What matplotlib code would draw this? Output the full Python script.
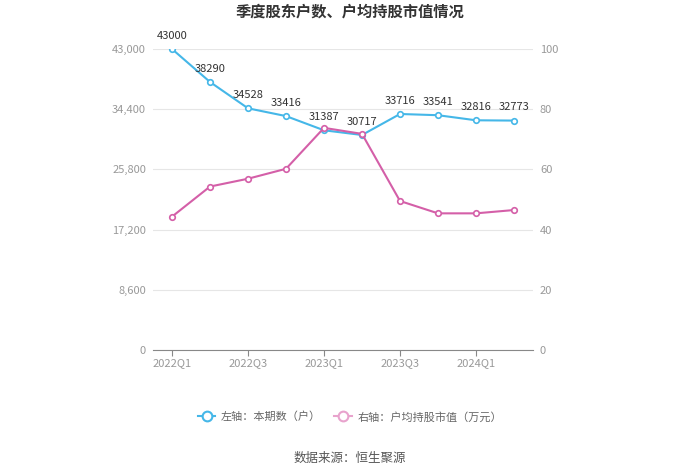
import matplotlib.pyplot as plt
import numpy as np

plt.rcParams['font.family'] = ['Noto Sans CJK SC', 'DejaVu Sans']

quarters = ['2022Q1', '2022Q2', '2022Q3', '2022Q4', '2023Q1', '2023Q2',
            '2023Q3', '2023Q4', '2024Q1', '2024Q2']
holders = [43000, 38290, 34528, 33416, 31387, 30717, 33716, 33541, 32816, 32773]
avg_value = [44.3, 54.3, 56.9, 60.2, 73.8, 71.8, 49.5, 45.4, 45.4, 46.5]
left_ticks = [0, 8600, 17200, 25800, 34400, 43000]
right_ticks = [0, 20, 40, 60, 80, 100]

blue = '#45b7e8'
pink = '#d45fa8'
gray = '#999999'

fig = plt.figure(figsize=(7, 4.74), dpi=100)
ax = fig.add_axes([153/700, 1-350/474, 380/700, 301/474])
ax2 = ax.twinx()

x = np.arange(len(quarters))
ax.plot(x, holders, color=blue, lw=1.5, marker='o', ms=4, mfc='white', mew=1.2, zorder=3)
ax2.plot(x, avg_value, color=pink, lw=1.5, marker='o', ms=4, mfc='white', mew=1.2, zorder=3)

for xi, v in zip(x, holders):
    ax.annotate(str(v), (xi, v), xytext=(0, 6), textcoords='offset points',
                ha='center', va='bottom', fontsize=8, color='#333333')

ax.set_xlim(-0.5, len(quarters) - 0.5)
ax.set_ylim(0, 43000)
ax2.set_ylim(0, 100)
ax.set_yticks(left_ticks)
ax.set_yticklabels([f'{t:,}' for t in left_ticks])
ax2.set_yticks(right_ticks)
ax.set_xticks(x[::2])
ax.set_xticklabels(quarters[::2])

for a in (ax, ax2):
    for s in a.spines.values():
        s.set_visible(False)
    a.tick_params(axis='y', length=0, labelsize=8, colors=gray, pad=5)
ax.spines['bottom'].set_visible(True)
ax.spines['bottom'].set_color('#888888')
ax.tick_params(axis='x', length=4, color='#888888', labelsize=8, labelcolor=gray, pad=2)
ax.grid(axis='y', color='#e6e6e6', lw=0.8)
ax.set_axisbelow(True)

fig.text(0.5, 1-12/474, '季度股东户数、户均持股市值情况', ha='center', va='center',
         fontsize=11, fontweight='bold', color='#333333')

h1, = ax.plot([], [], color=blue, lw=1.5, marker='o', ms=7, mfc='white', mew=1.5)
h2, = ax.plot([], [], color='#e8a3cd', lw=1.5, marker='o', ms=7, mfc='white', mew=1.5)
fig.legend([h1, h2], ['左轴：本期数（户）', '右轴：户均持股市值（万元）'],
           loc='center', bbox_to_anchor=(0.5, 1-417/474), ncol=2, frameon=False,
           fontsize=8, labelcolor='#666666', handlelength=1.6, handletextpad=0.5,
           columnspacing=1.2)

fig.text(0.5, 1-458/474, '数据来源：恒生聚源', ha='center', va='center',
         fontsize=9, color='#555555')

fig.savefig('out.png', dpi=100, facecolor='white')
